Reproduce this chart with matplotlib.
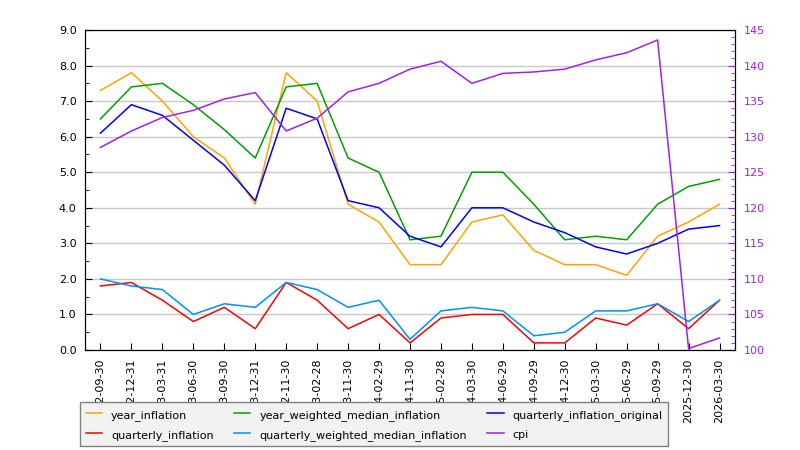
import matplotlib.pyplot as plt
from matplotlib.ticker import MultipleLocator

#data
dates = ['2022-09-30', '2022-12-31', '2023-03-31', '2023-06-30', '2023-09-30', '2023-12-31',
         '2022-11-30', '2023-02-28', '2023-11-30', '2024-02-29', '2024-11-30', '2025-02-28',
         '2024-03-30', '2024-06-29', '2024-09-29', '2024-12-30', '2025-03-30', '2025-06-29',
         '2025-09-29', '2025-12-30', '2026-03-30']
year_inflation = [7.3, 7.8, 7.0, 6.0, 5.4, 4.1, 7.8, 7.0, 4.1, 3.6, 2.4,
                  2.4, 3.6, 3.8, 2.8, 2.4, 2.4, 2.1, 3.2, 3.6, 4.1]
year_weighted_median_inflation = [6.5, 7.4, 7.5, 6.9, 6.2, 5.4, 7.4, 7.5, 5.4, 5.0, 3.1,
                                  3.2, 5.0, 5.0, 4.1, 3.1, 3.2, 3.1, 4.1, 4.6, 4.8]
quarterly_inflation_original = [6.1, 6.9, 6.6, 5.9, 5.2, 4.2, 6.8, 6.5, 4.2, 4.0, 3.2,
                                2.9, 4.0, 4.0, 3.6, 3.3, 2.9, 2.7, 3.0, 3.4, 3.5]
quarterly_inflation = [1.8, 1.9, 1.4, 0.8, 1.2, 0.6, 1.9, 1.4, 0.6, 1.0, 0.2,
                       0.9, 1.0, 1.0, 0.2, 0.2, 0.9, 0.7, 1.3, 0.6, 1.4]
quarterly_weighted_median_inflation = [2.0, 1.8, 1.7, 1.0, 1.3, 1.2, 1.9, 1.7, 1.2, 1.4, 0.3,
                                       1.1, 1.2, 1.1, 0.4, 0.5, 1.1, 1.1, 1.3, 0.8, 1.4]
cpi = [128.5, 130.8, 132.7, 133.7, 135.3, 136.2, 130.8, 132.6, 136.3, 137.5, 139.5,
       140.6, 137.5, 138.9, 139.1, 139.5, 140.8, 141.8, 143.6, 100.2, 101.7]

purple = '#a020f0'
plt.rcParams['font.size'] = 8

fig = plt.figure(figsize=(8, 4.5), dpi=100)
ax1 = fig.add_axes([0.10625, 0.2222, 0.8125, 0.7111])
x = range(len(dates))

#left axis lines
ax1.plot(x, year_inflation, color='#ffa500', lw=1.1, label='year_inflation')
ax1.plot(x, quarterly_inflation, color='#ff0000', lw=1.1, label='quarterly_inflation')
ax1.plot(x, year_weighted_median_inflation, color='#00a000', lw=1.1, label='year_weighted_median_inflation')
ax1.plot(x, quarterly_weighted_median_inflation, color='#0090ff', lw=1.1, label='quarterly_weighted_median_inflation')
ax1.plot(x, quarterly_inflation_original, color='#0000ff', lw=1.1, label='quarterly_inflation_original')

ax1.set_xlim(-0.5, len(dates) - 0.5)
ax1.set_ylim(0, 9)
ax1.yaxis.set_major_locator(MultipleLocator(1))
ax1.yaxis.set_minor_locator(MultipleLocator(0.5))
ax1.yaxis.set_major_formatter('{x:.1f}')
ax1.set_xticks(list(x))
ax1.set_xticklabels(dates, rotation=90)
ax1.tick_params(direction='in', pad=6)
ax1.tick_params(which='major', length=5)
ax1.tick_params(which='minor', length=3, direction='in')
ax1.grid(True, axis='y', color='#c8c8c8', linewidth=1)
ax1.set_axisbelow(True)

#right axis for cpi
ax2 = ax1.twinx()
ax2.plot(x, cpi, color=purple, lw=1.1, label='cpi')
ax2.set_ylim(100, 145)
ax2.yaxis.set_major_locator(MultipleLocator(5))
ax2.yaxis.set_minor_locator(MultipleLocator(1))
ax2.tick_params(axis='y', which='both', direction='in', colors=purple, pad=6)
ax2.tick_params(axis='y', which='major', length=5)
ax2.tick_params(axis='y', which='minor', length=3)

#legend below, over the tick labels
h1, l1 = ax1.get_legend_handles_labels()
h2, l2 = ax2.get_legend_handles_labels()
leg = fig.legend(h1 + h2, l1 + l2, ncol=3, loc='upper left',
                 bbox_to_anchor=(0.1, 1 - 402 / 450), fancybox=False,
                 framealpha=1, facecolor='#f2f2f2', edgecolor='#808080',
                 handlelength=1.5, handleheight=1.45, labelspacing=0.6,
                 borderpad=0.5, columnspacing=1.8, fontsize=8, borderaxespad=0)

fig.savefig('out.png', dpi=100)
